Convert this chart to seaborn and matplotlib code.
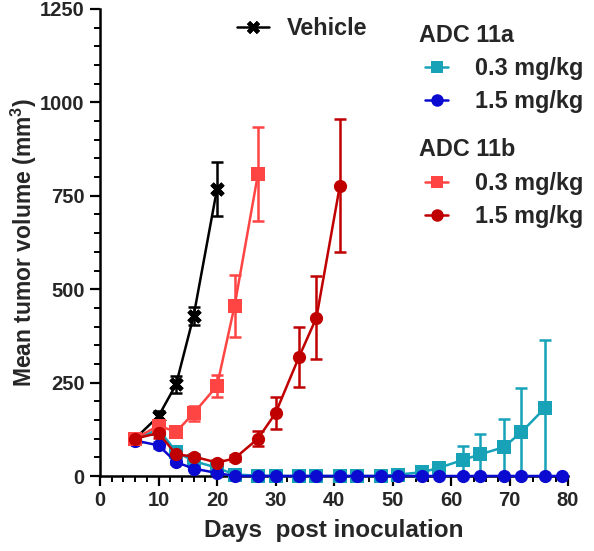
#Import Libraries
import matplotlib
matplotlib.use("Agg")
import matplotlib.pyplot as plt
import seaborn as sns
import pandas as pd
import numpy as np
from matplotlib.lines import Line2D
from matplotlib.ticker import MultipleLocator

#Data
vehicle_days = [6, 10, 13, 16, 20]
vehicle_mean = [100, 160, 245, 428, 768]
vehicle_err = [12, 15, 22, 25, 72]

a03_days = [6, 10, 13, 16, 20, 23, 27, 30, 34, 37, 41, 44, 48, 51, 55, 58, 62, 65, 69, 72, 76]
a03_mean = [98, 125, 65, 40, 22, 4, 1, 0, 0, 0, 0, 0, 0, 4, 10, 22, 43, 58, 77, 117, 181]
a03_err = [8, 10, 8, 6, 5, 3, 1, 0, 0, 0, 0, 0, 0, 3, 8, 15, 37, 54, 75, 118, 183]

a15_days = [6, 10, 13, 16, 20, 23, 27, 30, 34, 37, 41, 44, 48, 51, 55, 58, 62, 65, 69, 72, 76, 79]
a15_mean = [95, 82, 37, 20, 8, 0, 0, 0, 0, 0, 0, 0, 0, 0, 0, 0, 0, 0, 0, 0, 0, 0]
a15_err = [8, 8, 6, 4, 3, 0, 0, 0, 0, 0, 0, 0, 0, 0, 0, 0, 0, 0, 0, 0, 0, 0]

b03_days = [6, 10, 13, 16, 20, 23, 27]
b03_mean = [100, 135, 118, 168, 241, 455, 808]
b03_err = [10, 15, 12, 20, 30, 83, 125]

b15_days = [6, 10, 13, 16, 20, 23, 27, 30, 34, 37, 41]
b15_mean = [100, 115, 58, 52, 36, 47, 100, 168, 318, 424, 777]
b15_err = [10, 12, 8, 8, 6, 8, 20, 43, 80, 110, 178]

dose_labels = ["0.3 mg/kg", "1.5 mg/kg"]

#Style
sns.set_style("ticks")
plt.rcParams['font.family'] = ['Liberation Sans', 'DejaVu Sans']
plt.rcParams['font.weight'] = 'bold'
plt.rcParams['mathtext.fontset'] = 'custom'
plt.rcParams['mathtext.rm'] = 'Liberation Sans:bold'
plt.rcParams['mathtext.default'] = 'rm'

fig = plt.figure(figsize=(5.94, 5.51), dpi=100)
ax = fig.add_axes([100 / 594, 1 - 476 / 551, 468 / 594, 467 / 551])

groups = [
    ("Vehicle", vehicle_days, vehicle_mean, vehicle_err, "black", "X"),
    ("11a 0.3", a03_days, a03_mean, a03_err, "#17a2b8", "s"),
    ("11a 1.5", a15_days, a15_mean, a15_err, "#0a0ad0", "o"),
    ("11b 0.3", b03_days, b03_mean, b03_err, "#ff4444", "s"),
    ("11b 1.5", b15_days, b15_mean, b15_err, "#c00000", "o"),
]

# lines with seaborn, error bars with matplotlib
for name, days, mean, err, color, marker in groups:
    d = pd.DataFrame({"day": days, "mean": mean})
    mean_arr = np.array(mean, dtype=float)
    err_arr = np.array(err, dtype=float)
    lower = np.minimum(err_arr, mean_arr)
    ax.errorbar(days, mean, yerr=[lower, err_arr], fmt="none", ecolor=color,
                elinewidth=1.8, capsize=4.5, capthick=1.8, zorder=2)
    if marker == "X":
        sns.lineplot(data=d, x="day", y="mean", ax=ax, color=color, lw=1.8,
                     marker=(4, 2, 45), markersize=11, markeredgewidth=3.4,
                     markeredgecolor=color, clip_on=False, zorder=3)
    else:
        sns.lineplot(data=d, x="day", y="mean", ax=ax, color=color, lw=1.8,
                     marker=marker, markersize=9.5, markeredgewidth=0,
                     clip_on=False, zorder=3)

ax.set_xlim(0, 80)
ax.set_ylim(0, 1250)
ax.xaxis.set_major_locator(MultipleLocator(10))
ax.xaxis.set_minor_locator(MultipleLocator(2))
ax.yaxis.set_major_locator(MultipleLocator(250))
ax.yaxis.set_minor_locator(MultipleLocator(50))
ax.tick_params(which='major', length=7, width=1.6, labelsize=14.5, pad=4, color='black')
ax.tick_params(which='minor', length=4.5, width=1.4, color='black')
for lab in ax.get_xticklabels() + ax.get_yticklabels():
    lab.set_fontweight('bold')
sns.despine(ax=ax)
for s in ['left', 'bottom']:
    ax.spines[s].set_linewidth(1.8)
    ax.spines[s].set_color('black')

ax.set_xlabel("Days  post inoculation", fontsize=17.5, fontweight='bold', labelpad=6)
ax.set_ylabel("Mean tumor volume (mm$^{3}$)", fontsize=16.5, fontweight='bold', labelpad=1)

#Legend
def handle(color, marker):
    if marker == "X":
        return Line2D([], [], color=color, lw=1.8, marker=(4, 2, 45), markersize=10,
                      markeredgewidth=3, markeredgecolor=color)
    return Line2D([], [], color=color, lw=1.8, marker=marker, markersize=9,
                  markeredgewidth=0)

lg_kw = dict(frameon=False, prop={'size': 16.8, 'weight': 'bold'},
             labelspacing=0.42, borderpad=0, borderaxespad=0)

leg1 = fig.legend(handles=[handle("black", "X")], labels=["Vehicle"],
                  loc="upper left", bbox_to_anchor=(237 / 594, 1 - 17 / 551),
                  handlelength=1.35, handletextpad=0.8, **lg_kw)
leg2 = fig.legend(handles=[handle("#17a2b8", "s"), handle("#0a0ad0", "o")],
                  labels=dose_labels, loc="upper left",
                  bbox_to_anchor=(425 / 594, 1 - 57 / 551),
                  handlelength=1.0, handletextpad=1.15, **lg_kw)
leg3 = fig.legend(handles=[handle("#ff4444", "s"), handle("#c00000", "o")],
                  labels=dose_labels, loc="upper left",
                  bbox_to_anchor=(425 / 594, 1 - 172 / 551),
                  handlelength=1.0, handletextpad=1.15, **lg_kw)
fig.text(419 / 594, 1 - 41.5 / 551, "ADC 11a", fontsize=16.8, fontweight='bold',
         ha='left', va='baseline')
fig.text(419 / 594, 1 - 156 / 551, "ADC 11b", fontsize=16.8, fontweight='bold',
         ha='left', va='baseline')

plt.savefig("out.png", dpi=100)
